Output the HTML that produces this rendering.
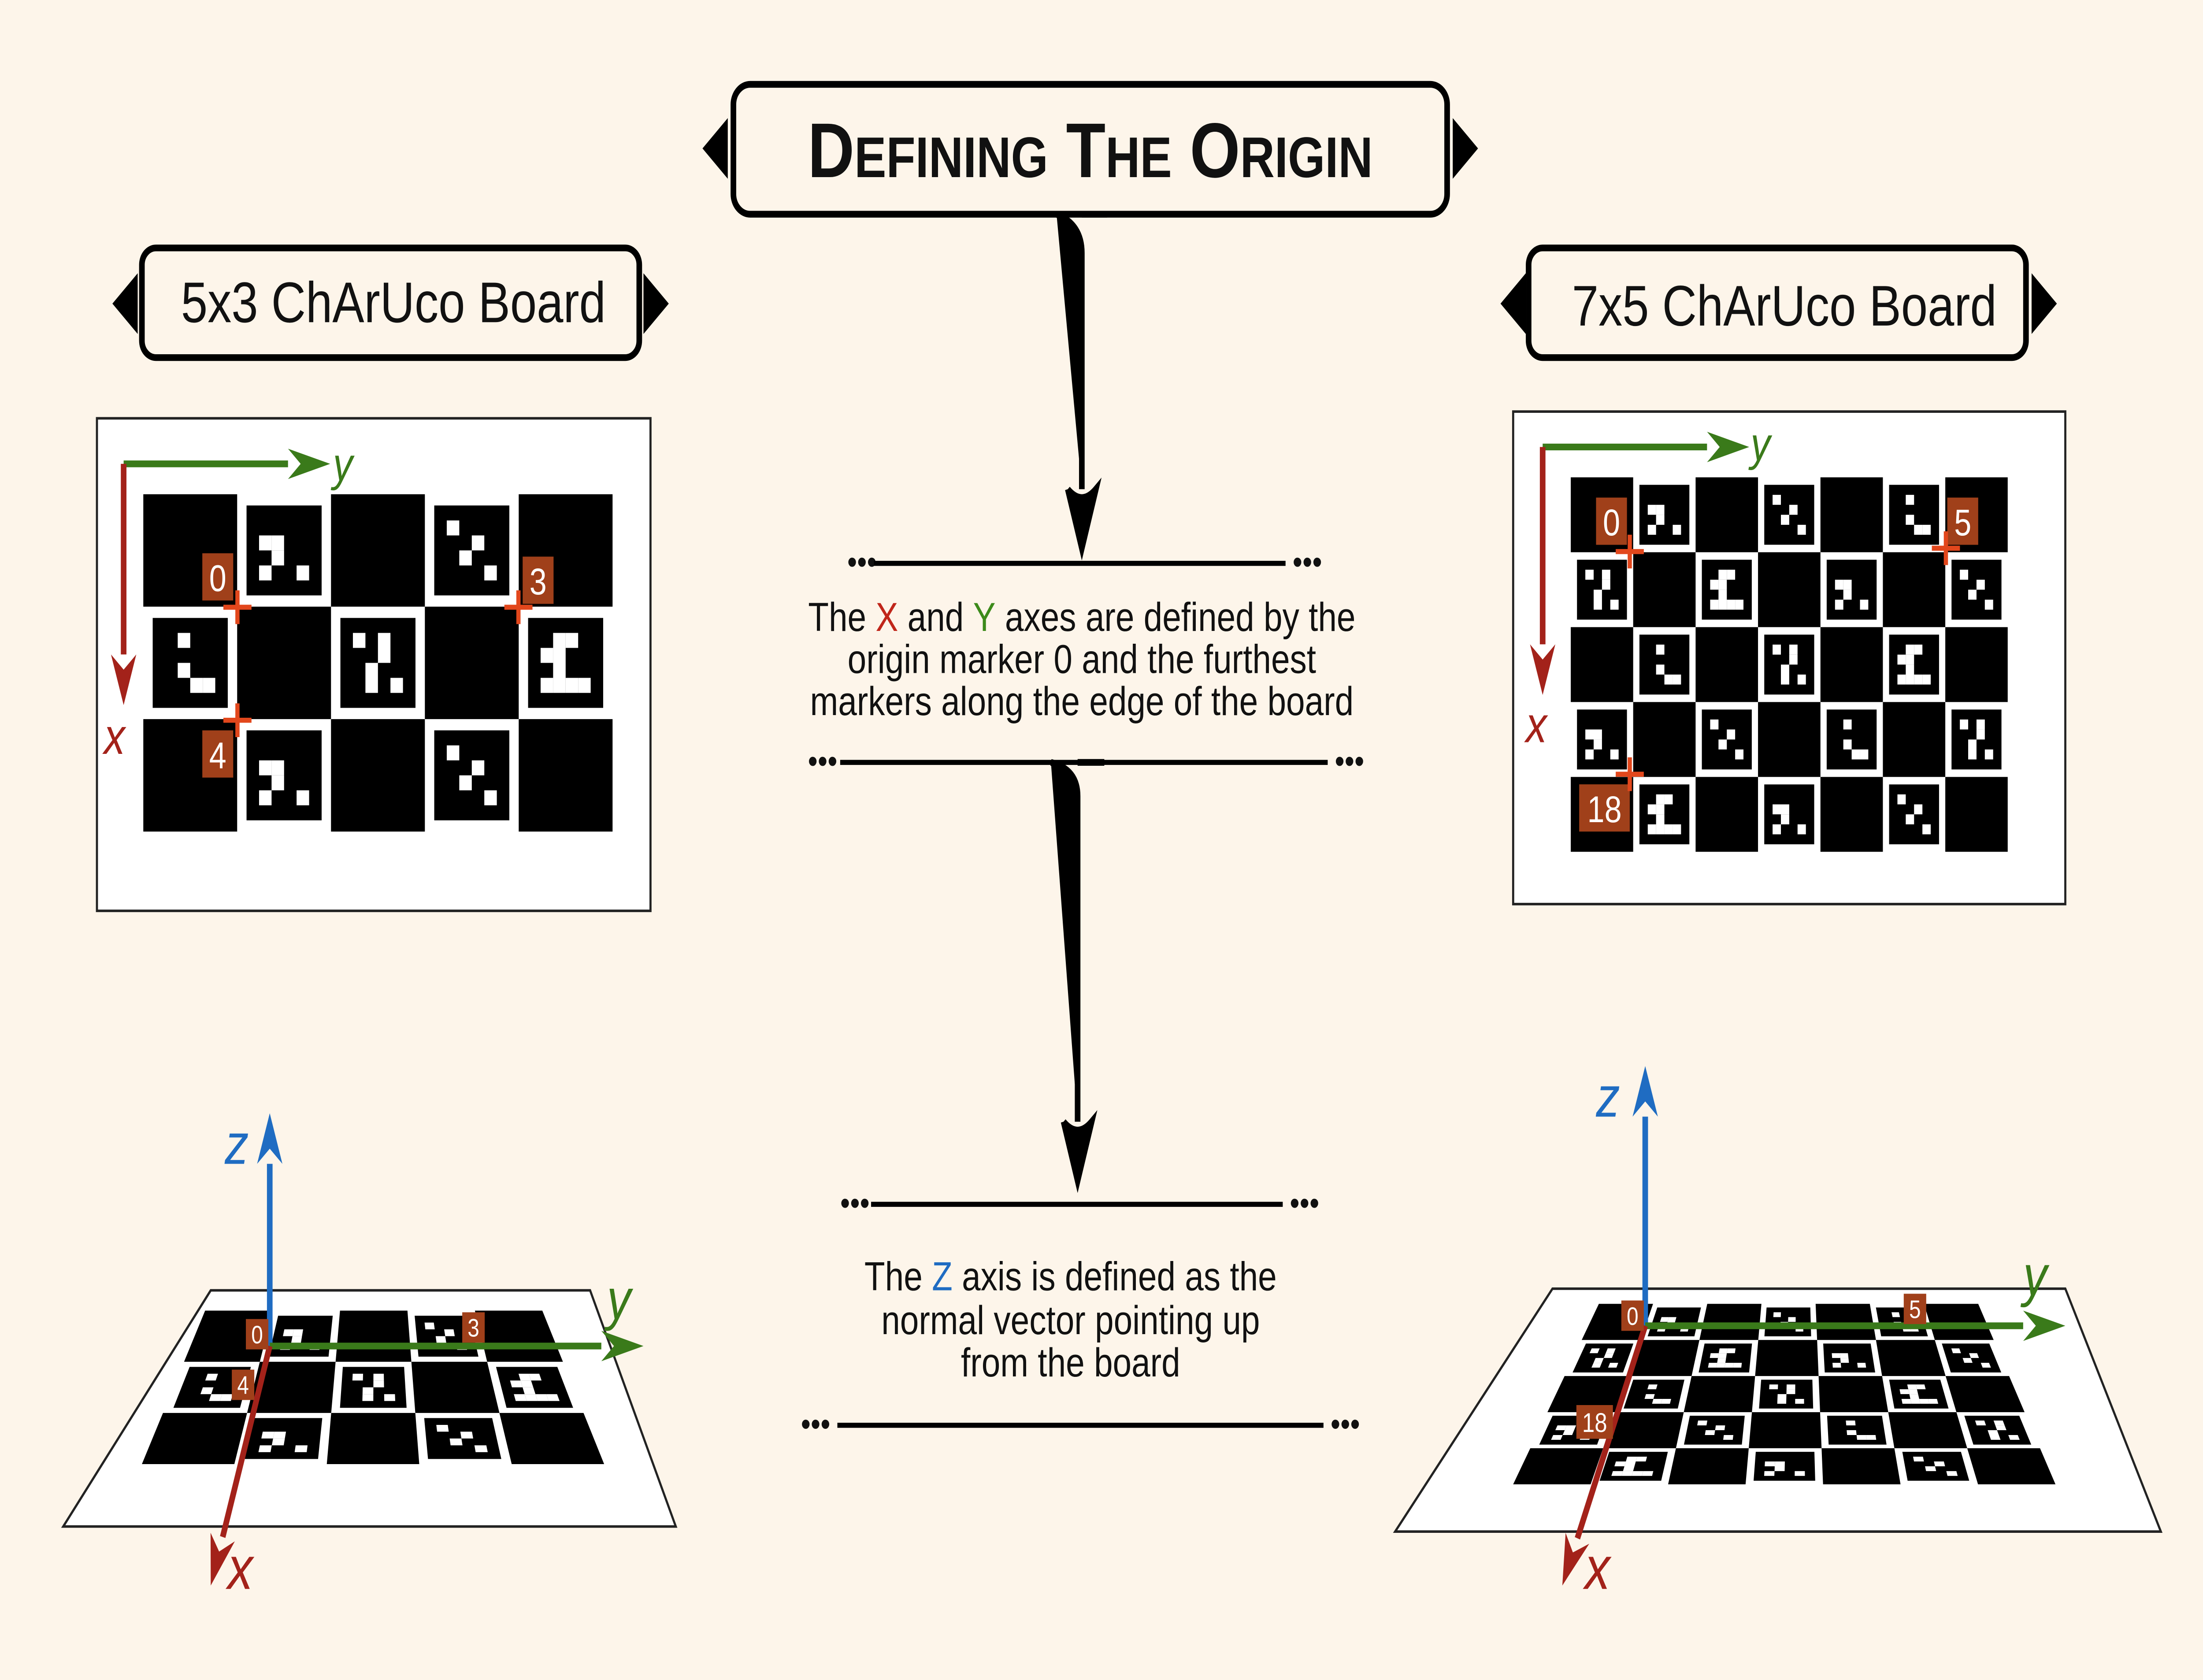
<!DOCTYPE html>
<html><head><meta charset="utf-8">
<style>
html,body{margin:0;padding:0;background:#fdf5ea;width:100%;height:100%;overflow:hidden;}
svg{display:block;position:absolute;left:0;top:0;width:100vw;height:100vh;}
text{font-family:"Liberation Sans","DejaVu Sans",sans-serif;}
</style></head>
<body>
<svg id="s" viewBox="0 0 1568 996" preserveAspectRatio="none" xmlns="http://www.w3.org/2000/svg">
<rect width="1568" height="996" fill="#fdf5ea"/>

<g>
<path d="M500,88 L518,70 L518,106 Z M1052,88 L1034,70 L1034,106 Z" fill="#000"/>
<rect x="522" y="50" width="508" height="77" rx="12" fill="#fdf5ea" stroke="#000" stroke-width="4"/>
<text x="776" y="105" text-anchor="middle" font-size="46" font-weight="bold" fill="#111">D<tspan font-size="34">EFINING</tspan> T<tspan font-size="34">HE</tspan> O<tspan font-size="34">RIGIN</tspan></text>
</g>
<path d="M752,127 Q770,133 770,150 L770,290 M760,290 L770,325 L780,290 Q770,300 760,290 M770,127 L788,127" stroke="#000" stroke-width="4" fill="#000"/>

<g>
<path d="M80,180 L98,162 L98,198Z M476,180 L458,162 L458,198Z" fill="#000"/>
<rect x="101" y="147" width="354" height="65" rx="10" fill="#fdf5ea" stroke="#000" stroke-width="4"/>
<text x="280" y="191" text-anchor="middle" font-size="34" fill="#111">5x3 ChArUco Board</text>
</g>
<g>
<path d="M1068,180 L1086,162 L1086,198Z M1464,180 L1446,162 L1446,198Z" fill="#000"/>
<rect x="1088" y="147" width="354" height="65" rx="10" fill="#fdf5ea" stroke="#000" stroke-width="4"/>
<text x="1270" y="193" text-anchor="middle" font-size="34" fill="#111">7x5 ChArUco Board</text>
</g>

<rect x="69" y="248" width="394" height="292" fill="#fff" stroke="#222" stroke-width="1.5"/>
<rect x="1077" y="244" width="393" height="292" fill="#fff" stroke="#222" stroke-width="1.5"/>

<g id="boards"></g>

<g font-size="24" fill="#111">
<text x="603" y="340" font-size="20">•••</text><line x1="622" y1="334" x2="915" y2="334" stroke="#000" stroke-width="3"/><text x="920" y="340" font-size="20">•••</text>
<text x="770" y="374" text-anchor="middle">The <tspan fill="#c0261a">X</tspan> and <tspan fill="#3c8a1a">Y</tspan> axes are defined by the</text>
<text x="770" y="399" text-anchor="middle">origin marker 0 and the furthest</text>
<text x="770" y="424" text-anchor="middle">markers along the edge of the board</text>
<text x="575" y="458" font-size="20">•••</text><line x1="598" y1="452" x2="945" y2="452" stroke="#000" stroke-width="3"/><text x="950" y="458" font-size="20">•••</text>
</g>
<path d="M748,452 Q767,456 767,472 L767,665 M757,665 L767,700 L777,665 Q767,675 757,665 M767,452 L786,452" stroke="#000" stroke-width="4" fill="#000"/>
<g font-size="24" fill="#111">
<text x="598" y="720" font-size="20">•••</text><line x1="620" y1="714" x2="913" y2="714" stroke="#000" stroke-width="3"/><text x="918" y="720" font-size="20">•••</text>
<text x="762" y="765" text-anchor="middle">The <tspan fill="#1f6cc2">Z</tspan> axis is defined as the</text>
<text x="762" y="791" text-anchor="middle">normal vector pointing up</text>
<text x="762" y="816" text-anchor="middle">from the board</text>
<text x="570" y="851" font-size="20">•••</text><line x1="596" y1="845" x2="942" y2="845" stroke="#000" stroke-width="3"/><text x="947" y="851" font-size="20">•••</text>
</g>

<polygon points="45,905 481,905 420,765 150,765" fill="#fff" stroke="#222" stroke-width="1.5"/>
<polygon points="993,908 1538,908 1470,764 1105,764" fill="#fff" stroke="#222" stroke-width="1.5"/>
<g id="boards3d"></g>
<g id="axes"></g>
</svg>
<script>
const NS="http://www.w3.org/2000/svg";
function el(t,a,p){const e=document.createElementNS(NS,t);for(const k in a)e.setAttribute(k,a[k]);(p||document.getElementById('s')).appendChild(e);return e;}
function q(c,u,v){const[a,b,cc,d]=c;const tx=a[0]+(b[0]-a[0])*u,ty=a[1]+(b[1]-a[1])*u,bx=d[0]+(cc[0]-d[0])*u,by=d[1]+(cc[1]-d[1])*u;return[tx+(bx-tx)*v,ty+(by-ty)*v];}
function poly(c,u0,v0,u1,v1,fill,parent){const p=[q(c,u0,v0),q(c,u1,v0),q(c,u1,v1),q(c,u0,v1)].map(x=>x.join(',')).join(' ');return el('polygon',{points:p,fill:fill},parent);}
function board(corners,cols,rows,parent,name){
 const g=el('g',{},parent);
 
 
 let idx=0;
 for(let r=0;r<rows;r++)for(let c=0;c<cols;c++){
  const u0=c/cols,u1=(c+1)/cols,v0=r/rows,v1=(r+1)/rows;
  if((r+c)%2===0){const s=poly(corners,u0,v0,u1,v1,'#000',g);
   
   }
  else{
   const du=(u1-u0),dv=(v1-v0);
   const m=poly(corners,u0+du*.1,v0+dv*.1,u1-du*.1,v1-dv*.1,'#000',g);
   
   
   const seed=idx*7+3;idx++;
   for(let i=0;i<6;i++)for(let j=0;j<6;j++){
    if(i===0||j===0||i===5||j===5)continue;
    if(((seed*(i+1)*(j+2)+i*j)%5)<2){
     const a=u0+du*(.1+.8*i/6),b=v0+dv*(.1+.8*j/6);
     poly(corners,a,b,a+du*.8/6,b+dv*.8/6,'#fff',g);
    }
   }
  }
 }
}
const B=document.getElementById('boards'),B3=document.getElementById('boards3d'),AX=document.getElementById('axes');
board([[102,293],[436,293],[436,493],[102,493]],5,3,B,'left-charuco-board');
board([[1118,283],[1429,283],[1429,505],[1118,505]],7,5,B,'right-charuco-board');
board([[146,777],[386,777],[430,868],[101,868]],5,3,B3,'left-3d-board');
board([[1138,773],[1408,773],[1463,880],[1077,880]],7,5,B3,'right-3d-board');
function label(x,y,w,h,t,fs){const g=el('g',{},AX);
 
 
 el('rect',{x:x,y:y,width:w,height:h,fill:'#a0401a'},g);
 const tx=el('text',{x:x+w/2,y:y+h*0.8,'text-anchor':'middle','font-size':fs,fill:'#fff'},g);tx.textContent=t;}
function cross(x,y){el('path',{d:`M${x-10},${y}H${x+10}M${x},${y-10}V${y+10}`,stroke:'#e2471c','stroke-width':3},AX);}
function arrow(x1,y1,x2,y2,col,name){const g=el('g',{},AX);
 
 
 const a=Math.atan2(y2-y1,x2-x1),L=30,W=9;
 const bx=x2-L*Math.cos(a),by=y2-L*Math.sin(a);
 el('line',{x1:x1,y1:y1,x2:bx,y2:by,stroke:col,'stroke-width':4},g);
 const px=-Math.sin(a)*W,py=Math.cos(a)*W,mx=x2-L*.7*Math.cos(a),my=y2-L*.7*Math.sin(a);
 el('polygon',{points:`${x2},${y2} ${bx+px},${by+py} ${mx},${my} ${bx-px},${by-py}`,fill:col},g);}
function axLabel(x,y,t,col,fs){const e=el('text',{x:x,y:y,'font-size':fs,fill:col,'font-style':'italic','font-family':'Liberation Serif,serif'},AX);
 
 e.textContent=t;}
arrow(88,275,235,275,'#3a7a1a','y-axis-left');arrow(88,275,88,418,'#a3221a','x-axis-left');
axLabel(237,285,'y','#3a7a1a',28);axLabel(74,447,'x','#a3221a',30);
label(144,328,22,28,'0',22);label(372,330,22,28,'3',22);label(144,433,22,28,'4',22);
cross(169,360);cross(369,360);cross(169,427);
arrow(1098,265,1245,265,'#3a7a1a','y-axis-right');arrow(1098,265,1098,412,'#a3221a','x-axis-right');
axLabel(1246,273,'y','#3a7a1a',28);axLabel(1086,440,'x','#a3221a',30);
label(1136,295,22,28,'0',22);label(1386,295,22,28,'5',22);label(1124,465,36,28,'18',22);
cross(1160,327);cross(1385,325);cross(1160,459);
arrow(192,798,192,660,'#1f6cc2','z-axis-left-3d');arrow(192,798,458,798,'#3a7a1a','y-axis-left-3d');arrow(192,798,150,940,'#a3221a','x-axis-left-3d');
axLabel(160,690,'z','#1f6cc2',34);axLabel(432,782,'y','#3a7a1a',34);axLabel(162,942,'x','#a3221a',36);
label(175,782,16,18,'0',15);label(329,778,16,18,'3',15);label(165,812,16,18,'4',15);
arrow(1171,786,1171,632,'#1f6cc2','z-axis-right-3d');arrow(1171,786,1470,786,'#3a7a1a','y-axis-right-3d');arrow(1171,786,1112,940,'#a3221a','x-axis-right-3d');
axLabel(1136,662,'z','#1f6cc2',34);axLabel(1440,768,'y','#3a7a1a',34);axLabel(1128,942,'x','#a3221a',36);
label(1154,771,16,18,'0',15);label(1355,767,16,18,'5',15);label(1122,833,26,20,'18',16);
</script>
</body></html>
